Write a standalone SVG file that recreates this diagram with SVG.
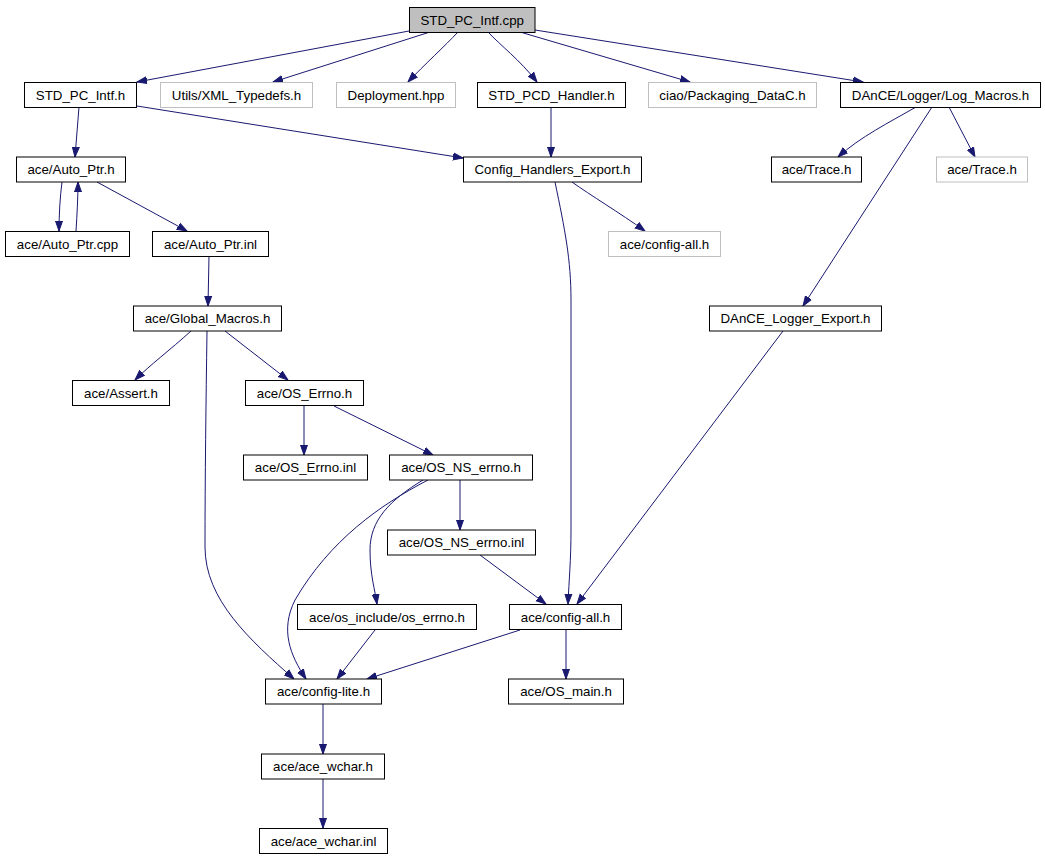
<svg xmlns="http://www.w3.org/2000/svg" width="1045" height="859" viewBox="0 0 1045 859">
<style>
.n rect{fill:#ffffff;stroke:#000000;stroke-width:1}
.n.g rect{stroke:#bfbfbf}
.n.root rect{fill:#bfbfbf}
.n text{font-family:"Liberation Sans",Arial,sans-serif;font-size:13.3px;text-anchor:middle;fill:#000000}
.e path{fill:none;stroke:#191970;stroke-width:1;marker-end:url(#a)}
</style>
<defs>
<marker id="a" markerWidth="11" markerHeight="9" refX="10" refY="4.5" orient="auto" markerUnits="userSpaceOnUse">
<path d="M0,1 L10,4.5 L0,8 z" fill="#191970" stroke="#191970" stroke-width="1"/>
</marker>
</defs>
<rect width="1045" height="859" fill="#ffffff"/>
<g id="connectors" class="e">
<path d="M409,31 L137,82"/>
<path d="M430,32 L273,82"/>
<path d="M458,32 C445,46 425,64 408,82"/>
<path d="M488,32 C500,45 520,60 537,82"/>
<path d="M520,32 L690,82"/>
<path d="M535,30 L863,82"/>
<path d="M79,107 L75,157"/>
<path d="M137,106 L463,158"/>
<path d="M551,107 L551,157"/>
<path d="M916,107 C890,122 860,137 838,157"/>
<path d="M949,107 L975,157"/>
<path d="M932,107 L803,306"/>
<path d="M572,182 C590,195 620,213 645,231"/>
<path d="M555,182 C565,230 571,260 571,300 L571,530 C571,560 569,580 568,604"/>
<path d="M62,182 C60,197 59,215 59,231"/>
<path d="M76,231 C77,215 78,197 78,182"/>
<path d="M97,182 L187,231"/>
<path d="M209,256 L208,306"/>
<path d="M191,331 C170,350 150,365 135,380"/>
<path d="M225,331 L288,380"/>
<path d="M207,331 C206,400 205,480 205,547 C205,600 250,640 294,679"/>
<path d="M304,406 L304,455"/>
<path d="M334,406 L433,455"/>
<path d="M460,480 L460,530"/>
<path d="M428,480 C380,505 330,540 295,600 C280,630 290,655 306,679"/>
<path d="M423,480 C390,500 370,520 370,550 C370,575 375,590 377,604"/>
<path d="M480,555 L546,604"/>
<path d="M783,331 L577,604"/>
<path d="M375,630 L337,679"/>
<path d="M520,630 L367,679"/>
<path d="M566,630 L566,679"/>
<path d="M323,704 L323,754"/>
<path d="M323,779 L323,828"/>
</g>
<g id="n0" class="n root"><rect x="409.5" y="7.5" width="125.5" height="25"/><text x="472.2" y="24.5">STD_PC_Intf.cpp</text></g>
<g id="n1" class="n"><rect x="24.5" y="82.5" width="112" height="25"/><text x="80.5" y="99.5">STD_PC_Intf.h</text></g>
<g id="n2" class="n g"><rect x="160.5" y="82.5" width="152" height="25"/><text x="236.5" y="99.5">Utils/XML_Typedefs.h</text></g>
<g id="n3" class="n g"><rect x="336.5" y="82.5" width="119" height="25"/><text x="396" y="99.5">Deployment.hpp</text></g>
<g id="n4" class="n"><rect x="477.5" y="82.5" width="148" height="25"/><text x="551.5" y="99.5">STD_PCD_Handler.h</text></g>
<g id="n5" class="n g"><rect x="648.5" y="82.5" width="168" height="25"/><text x="732.5" y="99.5">ciao/Packaging_DataC.h</text></g>
<g id="n6" class="n"><rect x="840.5" y="82.5" width="200" height="25"/><text x="940.5" y="99.5">DAnCE/Logger/Log_Macros.h</text></g>
<g id="n7" class="n"><rect x="16.5" y="157" width="109" height="25"/><text x="71" y="174">ace/Auto_Ptr.h</text></g>
<g id="n8" class="n"><rect x="463.5" y="157" width="178" height="25"/><text x="552.5" y="174">Config_Handlers_Export.h</text></g>
<g id="n9" class="n"><rect x="771.5" y="157" width="90" height="25"/><text x="816.5" y="174">ace/Trace.h</text></g>
<g id="n10" class="n g"><rect x="936.5" y="157" width="91" height="25"/><text x="982" y="174">ace/Trace.h</text></g>
<g id="n11" class="n"><rect x="5.5" y="231.5" width="124" height="25"/><text x="67.5" y="248.5">ace/Auto_Ptr.cpp</text></g>
<g id="n12" class="n"><rect x="152.5" y="231.5" width="116" height="25"/><text x="210.5" y="248.5">ace/Auto_Ptr.inl</text></g>
<g id="n13" class="n g"><rect x="608.5" y="231.5" width="112" height="25"/><text x="664.5" y="248.5">ace/config-all.h</text></g>
<g id="n14" class="n"><rect x="133.5" y="306" width="148" height="25"/><text x="207.5" y="323">ace/Global_Macros.h</text></g>
<g id="n15" class="n"><rect x="709.5" y="306" width="172" height="25"/><text x="795.5" y="323">DAnCE_Logger_Export.h</text></g>
<g id="n16" class="n"><rect x="72.5" y="380.5" width="97" height="25"/><text x="121" y="397.5">ace/Assert.h</text></g>
<g id="n17" class="n"><rect x="245.5" y="380.5" width="118" height="25"/><text x="304.5" y="397.5">ace/OS_Errno.h</text></g>
<g id="n18" class="n"><rect x="243.5" y="455" width="124" height="25"/><text x="305.5" y="472">ace/OS_Errno.inl</text></g>
<g id="n19" class="n"><rect x="389.5" y="455" width="143" height="25"/><text x="461" y="472">ace/OS_NS_errno.h</text></g>
<g id="n20" class="n"><rect x="387.5" y="530" width="148" height="25"/><text x="461.5" y="547">ace/OS_NS_errno.inl</text></g>
<g id="n21" class="n"><rect x="297.5" y="604.5" width="179" height="25"/><text x="387" y="621.5">ace/os_include/os_errno.h</text></g>
<g id="n22" class="n"><rect x="509.5" y="604.5" width="112" height="25"/><text x="565.5" y="621.5">ace/config-all.h</text></g>
<g id="n23" class="n"><rect x="265.5" y="679" width="116" height="25"/><text x="323.5" y="696">ace/config-lite.h</text></g>
<g id="n24" class="n"><rect x="508.5" y="679" width="115" height="25"/><text x="566" y="696">ace/OS_main.h</text></g>
<g id="n25" class="n"><rect x="261.5" y="754" width="123" height="25"/><text x="323" y="771">ace/ace_wchar.h</text></g>
<g id="n26" class="n"><rect x="259.5" y="828.5" width="128" height="25"/><text x="323.5" y="845.5">ace/ace_wchar.inl</text></g>
</svg>
